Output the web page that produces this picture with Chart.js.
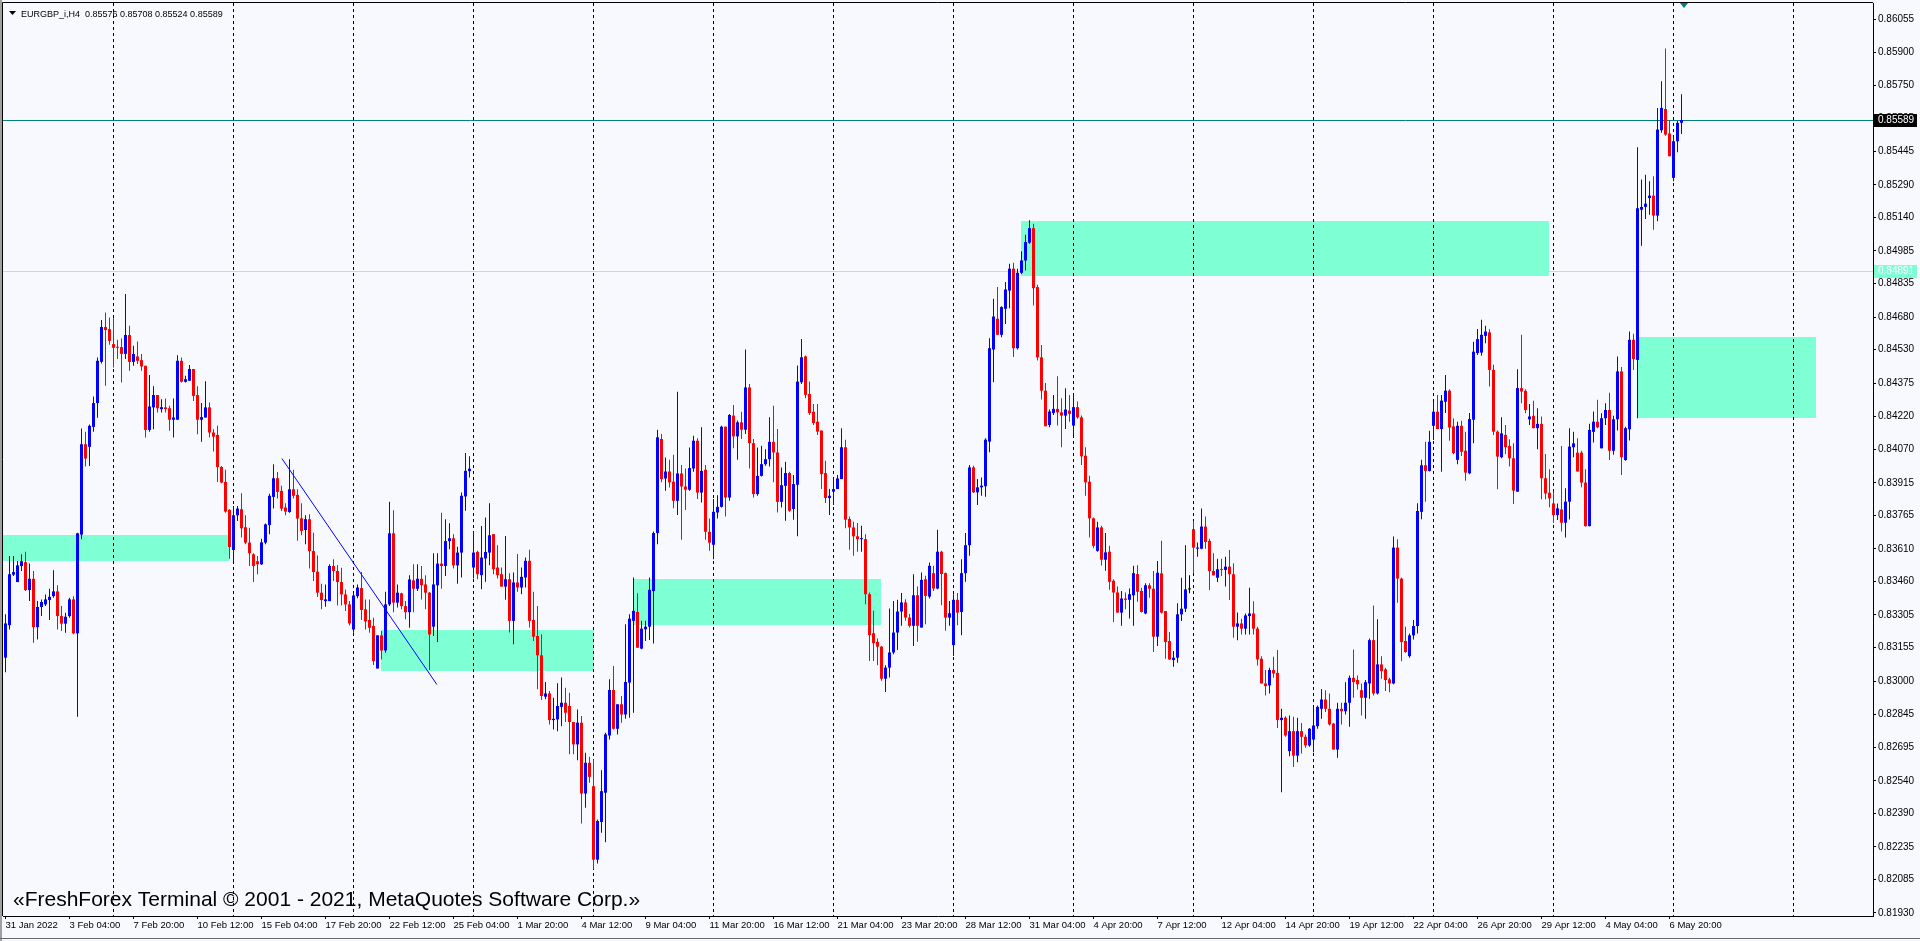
<!DOCTYPE html>
<html lang="en">
<head>
<meta charset="UTF-8" />
<title>EURGBP_i,H4</title>
<style>
  html, body { margin: 0; padding: 0; background: #f8f8ff; overflow: hidden; }
  #wrap { width: 1920px; height: 941px; }
</style>
</head>
<body>
<div id="wrap"><canvas id="chart" width="1920" height="941"></canvas></div>
<script src="https://cdn.jsdelivr.net/npm/chart.js"></script>
<script>
// EURGBP H4 candles, 31 Jan 12:00 .. 9 May 2022
const opens = [
  0.83108,0.83258,0.83491,0.83457,0.83531,0.83549,0.83420,0.83472,0.83249,0.83342,
  0.83354,0.83374,0.83392,0.83414,0.83300,0.83265,0.83300,0.83377,0.83220,0.83676,
  0.84093,0.84081,0.84173,0.84283,0.84473,0.84634,0.84624,0.84555,0.84541,0.84541,
  0.84510,0.84597,0.84473,0.84498,0.84481,0.84455,0.84159,0.84263,0.84320,0.84255,
  0.84263,0.84259,0.84206,0.84206,0.84478,0.84381,0.84386,0.84440,0.84320,0.84206,
  0.84216,0.84263,0.84147,0.84136,0.83988,0.83919,0.83790,0.83605,0.83765,0.83793,
  0.83710,0.83639,0.83585,0.83553,0.83539,0.83639,0.83720,0.83850,0.83936,0.83878,
  0.83801,0.83780,0.83885,0.83859,0.83751,0.83697,0.83747,0.83600,0.83505,0.83408,
  0.83369,0.83369,0.83531,0.83508,0.83457,0.83400,0.83354,0.83238,0.83392,0.83429,
  0.83331,0.83282,0.83254,0.83058,0.83211,0.83141,0.83354,0.83682,0.83362,0.83405,
  0.83346,0.83318,0.83465,0.83426,0.83472,0.83446,0.83408,0.83251,0.83442,0.83542,
  0.83531,0.83646,0.83659,0.83534,0.83593,0.83852,0.83969,0.83524,0.83596,0.83489,
  0.83566,0.83593,0.83678,0.83524,0.83493,0.83436,0.83470,0.83278,0.83455,0.83432,
  0.83478,0.83555,0.83282,0.83208,0.83119,0.82928,0.82943,0.82820,0.82823,0.82881,
  0.82900,0.82885,0.82811,0.82708,0.82808,0.82481,0.82623,0.82515,0.82176,0.82350,
  0.82485,0.82749,0.82959,0.82780,0.82893,0.82846,0.82993,0.83278,0.83319,0.83150,
  0.83239,0.83251,0.83416,0.83683,0.84117,0.83935,0.83967,0.83920,0.83832,0.83958,
  0.83898,0.83883,0.83981,0.84109,0.83870,0.83975,0.83689,0.83629,0.83778,0.83804,
  0.84174,0.83847,0.84225,0.84129,0.84194,0.84160,0.84355,0.84098,0.83863,0.83947,
  0.84001,0.84024,0.84104,0.84055,0.83827,0.83901,0.83960,0.83794,0.83906,0.84379,
  0.84498,0.84325,0.84243,0.84197,0.84156,0.83960,0.83845,0.83874,0.83886,0.83932,
  0.84079,0.83748,0.83709,0.83668,0.83655,0.83655,0.83401,0.83221,0.83181,0.83159,
  0.83011,0.83062,0.83132,0.83224,0.83321,0.83363,0.83293,0.83255,0.83396,0.83247,
  0.83470,0.83390,0.83498,0.83427,0.83597,0.83498,0.83293,0.83166,0.83375,0.83319,
  0.83498,0.83627,0.83986,0.83871,0.83894,0.83899,0.84105,0.84530,0.84672,0.84598,
  0.84718,0.84802,0.84903,0.84536,0.84884,0.84941,0.85023,0.85090,0.84818,0.84494,
  0.84340,0.84182,0.84237,0.84256,0.84240,0.84225,0.84248,0.84179,0.84264,0.84217,
  0.84040,0.83920,0.83751,0.83601,0.83709,0.83560,0.83597,0.83463,0.83409,0.83316,
  0.83381,0.83375,0.83396,0.83494,0.83416,0.83312,0.83442,0.83426,0.83205,0.83497,
  0.83323,0.83185,0.83097,0.83108,0.83308,0.83334,0.83423,0.83701,0.83611,0.83611,
  0.83713,0.83647,0.83508,0.83477,0.83516,0.83513,0.83528,0.83493,0.83251,0.83266,
  0.83242,0.83300,0.83312,0.83242,0.83103,0.82989,0.82980,0.83051,0.83038,0.82820,
  0.82831,0.82677,0.82769,0.82656,0.82769,0.82743,0.82703,0.82730,0.82792,0.82872,
  0.82915,0.82872,0.82804,0.82684,0.82872,0.82861,0.82900,0.83015,0.83005,0.82958,
  0.82923,0.82989,0.83189,0.82943,0.83077,0.83054,0.83008,0.82989,0.83616,0.83473,
  0.83185,0.83115,0.83211,0.83254,0.83781,0.83996,0.83970,0.84178,0.84243,0.84163,
  0.84289,0.84340,0.84175,0.84021,0.84178,0.84063,0.83959,0.84206,0.84514,0.84516,
  0.84593,0.84609,0.84436,0.84151,0.84033,0.84136,0.84085,0.84028,0.83874,0.84352,
  0.84339,0.84208,0.84224,0.84167,0.84187,0.83936,0.83869,0.83820,0.83766,0.83792,
  0.83731,0.83828,0.84079,0.84054,0.84054,0.83916,0.83715,0.84150,0.84197,0.84074,
  0.84213,0.84251,0.84063,0.84208,0.84429,0.84020,0.84162,0.84575,0.84482,0.85175,
  0.85188,0.85229,0.85240,0.85148,0.85542,0.85640,0.85527,0.85322,0.85491,0.85576
];
const highs = [
  0.83308,0.83577,0.83577,0.83554,0.83585,0.83597,0.83543,0.83508,0.83369,0.83377,
  0.83400,0.83426,0.83511,0.83442,0.83346,0.83315,0.83385,0.83392,0.83685,0.84166,
  0.84150,0.84184,0.84313,0.84493,0.84666,0.84701,0.84678,0.84675,0.84575,0.84581,
  0.84786,0.84640,0.84547,0.84567,0.84509,0.84455,0.84412,0.84360,0.84320,0.84301,
  0.84304,0.84270,0.84304,0.84504,0.84493,0.84409,0.84458,0.84440,0.84360,0.84283,
  0.84384,0.84286,0.84162,0.84178,0.83993,0.83975,0.83793,0.83808,0.83808,0.83867,
  0.83765,0.83708,0.83590,0.83577,0.83657,0.83727,0.83865,0.84001,0.83965,0.83901,
  0.83821,0.84024,0.83975,0.83885,0.83821,0.83765,0.83770,0.83685,0.83580,0.83449,
  0.83446,0.83539,0.83562,0.83536,0.83523,0.83423,0.83369,0.83408,0.83446,0.83503,
  0.83377,0.83377,0.83292,0.83211,0.83231,0.83412,0.83827,0.83788,0.83446,0.83408,
  0.83369,0.83488,0.83539,0.83539,0.83531,0.83488,0.83411,0.83590,0.83590,0.83777,
  0.83747,0.83728,0.83677,0.83620,0.83870,0.84052,0.84037,0.83689,0.83601,0.83716,
  0.83755,0.83821,0.83678,0.83627,0.83524,0.83670,0.83498,0.83501,0.83586,0.83524,
  0.83570,0.83606,0.83412,0.83347,0.83216,0.82996,0.82954,0.82923,0.82990,0.83016,
  0.82969,0.82946,0.82811,0.82869,0.82839,0.82669,0.82651,0.82638,0.82361,0.82589,
  0.82762,0.83008,0.83070,0.82893,0.82931,0.83262,0.83308,0.83478,0.83405,0.83278,
  0.83278,0.83478,0.83690,0.84160,0.84140,0.84032,0.84021,0.84044,0.84335,0.83997,
  0.83981,0.84078,0.84132,0.84120,0.84171,0.83997,0.83750,0.83840,0.83858,0.84178,
  0.84174,0.84232,0.84274,0.84202,0.84243,0.84530,0.84371,0.84117,0.84078,0.84086,
  0.84070,0.84217,0.84271,0.84163,0.83986,0.84012,0.83966,0.83951,0.84456,0.84579,
  0.84502,0.84382,0.84279,0.84279,0.84156,0.84017,0.83886,0.83935,0.83951,0.84167,
  0.84114,0.83760,0.83735,0.83729,0.83717,0.83678,0.83409,0.83324,0.83196,0.83162,
  0.83073,0.83335,0.83370,0.83375,0.83406,0.83378,0.83309,0.83493,0.83437,0.83501,
  0.83486,0.83547,0.83532,0.83698,0.83601,0.83501,0.83370,0.83401,0.83406,0.83562,
  0.83683,0.83997,0.83994,0.83932,0.83940,0.84120,0.84582,0.84764,0.84818,0.84730,
  0.84841,0.84926,0.84930,0.84903,0.84983,0.85060,0.85126,0.85110,0.84829,0.84551,
  0.84376,0.84253,0.84320,0.84407,0.84305,0.84351,0.84320,0.84317,0.84290,0.84225,
  0.84079,0.83948,0.83755,0.83735,0.83717,0.83683,0.83624,0.83470,0.83437,0.83416,
  0.83409,0.83427,0.83532,0.83535,0.83431,0.83451,0.83451,0.83508,0.83554,0.83647,
  0.83323,0.83226,0.83139,0.83359,0.83477,0.83627,0.83488,0.83739,0.83639,0.83796,
  0.83759,0.83657,0.83590,0.83565,0.83565,0.83574,0.83605,0.83544,0.83316,0.83288,
  0.83312,0.83431,0.83368,0.83251,0.83115,0.83051,0.83062,0.83112,0.83143,0.82872,
  0.82838,0.82841,0.82835,0.82831,0.82807,0.82753,0.82784,0.82877,0.82887,0.82964,
  0.82958,0.82943,0.82807,0.82900,0.82900,0.82995,0.83026,0.83146,0.83026,0.82989,
  0.83005,0.83196,0.83349,0.83285,0.83115,0.83062,0.83015,0.83667,0.83654,0.83477,
  0.83251,0.83220,0.83282,0.83821,0.84021,0.84104,0.84155,0.84289,0.84320,0.84320,
  0.84412,0.84347,0.84212,0.84197,0.84201,0.84150,0.84237,0.84566,0.84625,0.84667,
  0.84640,0.84624,0.84460,0.84156,0.84217,0.84182,0.84116,0.84097,0.84439,0.84598,
  0.84347,0.84279,0.84294,0.84259,0.84221,0.84048,0.83977,0.83874,0.83820,0.84085,
  0.83890,0.84167,0.84151,0.84121,0.84063,0.83977,0.84187,0.84244,0.84298,0.84236,
  0.84282,0.84331,0.84224,0.84498,0.84449,0.84174,0.84613,0.84603,0.85463,0.85314,
  0.85337,0.85306,0.85329,0.85645,0.85768,0.85919,0.85588,0.85511,0.85584,0.85708
];
const lows = [
  0.83041,0.83238,0.83485,0.83457,0.83508,0.83416,0.83369,0.83177,0.83192,0.83300,
  0.83346,0.83282,0.83385,0.83238,0.83231,0.83223,0.83292,0.83216,0.82835,0.83654,
  0.83990,0.83993,0.84150,0.84215,0.84466,0.84363,0.84552,0.84447,0.84486,0.84378,
  0.84486,0.84432,0.84455,0.84463,0.84432,0.84124,0.84150,0.84162,0.84239,0.84239,
  0.84239,0.84155,0.84124,0.84206,0.84378,0.84378,0.84386,0.84293,0.84139,0.84104,
  0.84216,0.84124,0.84059,0.83919,0.83913,0.83777,0.83565,0.83554,0.83739,0.83662,
  0.83631,0.83531,0.83457,0.83493,0.83536,0.83631,0.83677,0.83796,0.83842,0.83785,
  0.83765,0.83777,0.83842,0.83647,0.83673,0.83631,0.83519,0.83462,0.83388,0.83331,
  0.83343,0.83369,0.83462,0.83349,0.83349,0.83323,0.83257,0.83223,0.83382,0.83282,
  0.83238,0.83223,0.83074,0.83058,0.83100,0.83131,0.83346,0.83318,0.83339,0.83331,
  0.83285,0.83246,0.83318,0.83416,0.83377,0.83331,0.83051,0.83208,0.83180,0.83426,
  0.83485,0.83608,0.83519,0.83449,0.83478,0.83786,0.83940,0.83473,0.83470,0.83424,
  0.83458,0.83535,0.83493,0.83473,0.83436,0.83375,0.83224,0.83170,0.83412,0.83401,
  0.83432,0.83247,0.83185,0.82962,0.82913,0.82916,0.82800,0.82777,0.82769,0.82792,
  0.82811,0.82662,0.82662,0.82635,0.82343,0.82415,0.82531,0.82133,0.82158,0.82300,
  0.82256,0.82731,0.82777,0.82754,0.82808,0.82826,0.82831,0.82854,0.83154,0.83147,
  0.83185,0.83190,0.83174,0.83632,0.83917,0.83878,0.83893,0.83798,0.83766,0.83652,
  0.83789,0.83878,0.83966,0.83840,0.83824,0.83652,0.83601,0.83562,0.83750,0.83801,
  0.83760,0.83832,0.84074,0.84021,0.84117,0.84140,0.83981,0.83847,0.83855,0.83944,
  0.83994,0.83990,0.83917,0.83778,0.83801,0.83740,0.83781,0.83745,0.83668,0.84371,
  0.84305,0.84228,0.84182,0.84136,0.83886,0.83822,0.83766,0.83812,0.83886,0.83932,
  0.83705,0.83606,0.83578,0.83597,0.83597,0.83355,0.83093,0.83093,0.83073,0.83001,
  0.82950,0.83016,0.83124,0.83144,0.83255,0.83278,0.83247,0.83162,0.83181,0.83247,
  0.83262,0.83381,0.83416,0.83424,0.83350,0.83232,0.83255,0.83116,0.83258,0.83212,
  0.83458,0.83578,0.83868,0.83812,0.83855,0.83851,0.84056,0.84379,0.84598,0.84587,
  0.84648,0.84721,0.84495,0.84530,0.84879,0.84895,0.85018,0.84733,0.84479,0.84299,
  0.84176,0.84171,0.84228,0.84179,0.84079,0.84163,0.84197,0.84136,0.84210,0.83997,
  0.83855,0.83663,0.83613,0.83597,0.83533,0.83509,0.83421,0.83273,0.83316,0.83255,
  0.83332,0.83289,0.83255,0.83366,0.83316,0.83308,0.83385,0.83134,0.83162,0.83312,
  0.83103,0.83097,0.83066,0.83085,0.83277,0.83319,0.83405,0.83500,0.83574,0.83608,
  0.83611,0.83420,0.83488,0.83457,0.83485,0.83436,0.83374,0.83200,0.83189,0.83215,
  0.83215,0.83215,0.83215,0.83072,0.82989,0.82934,0.82943,0.83015,0.82784,0.82487,
  0.82743,0.82653,0.82604,0.82626,0.82666,0.82692,0.82697,0.82672,0.82780,0.82826,
  0.82857,0.82795,0.82684,0.82646,0.82800,0.82846,0.82789,0.82923,0.82961,0.82841,
  0.82826,0.82918,0.82934,0.82938,0.83011,0.82954,0.82949,0.82985,0.83362,0.83092,
  0.83131,0.83108,0.83192,0.83220,0.83747,0.83827,0.83967,0.84113,0.84163,0.83966,
  0.84237,0.84109,0.84047,0.84001,0.84039,0.83924,0.83955,0.84098,0.84505,0.84501,
  0.84559,0.84359,0.84136,0.83885,0.84028,0.84048,0.83990,0.83817,0.83874,0.84282,
  0.84236,0.84182,0.84167,0.84070,0.83839,0.83839,0.83802,0.83731,0.83743,0.83690,
  0.83663,0.83746,0.84033,0.83967,0.83894,0.83712,0.83715,0.84101,0.84167,0.84074,
  0.84182,0.84020,0.84044,0.84156,0.83951,0.84017,0.84110,0.84436,0.84213,0.85009,
  0.85132,0.85152,0.85083,0.85122,0.85530,0.85517,0.85422,0.85306,0.85440,0.85524
];
const closes = [
  0.83266,0.83493,0.83503,0.83534,0.83553,0.83420,0.83472,0.83249,0.83342,0.83365,
  0.83377,0.83389,0.83414,0.83300,0.83265,0.83297,0.83377,0.83220,0.83682,0.84093,
  0.84027,0.84178,0.84283,0.84478,0.84634,0.84620,0.84570,0.84538,0.84538,0.84510,
  0.84597,0.84473,0.84509,0.84478,0.84452,0.84159,0.84267,0.84320,0.84259,0.84264,
  0.84255,0.84206,0.84216,0.84478,0.84381,0.84393,0.84440,0.84316,0.84206,0.84218,
  0.84263,0.84147,0.84128,0.83988,0.83916,0.83782,0.83619,0.83765,0.83796,0.83705,
  0.83639,0.83590,0.83531,0.83539,0.83640,0.83723,0.83855,0.83936,0.83873,0.83796,
  0.83782,0.83885,0.83855,0.83750,0.83693,0.83747,0.83600,0.83503,0.83408,0.83374,
  0.83377,0.83531,0.83508,0.83457,0.83400,0.83354,0.83266,0.83395,0.83432,0.83328,
  0.83275,0.83246,0.83092,0.83211,0.83141,0.83354,0.83682,0.83362,0.83408,0.83346,
  0.83318,0.83469,0.83426,0.83472,0.83442,0.83408,0.83215,0.83446,0.83542,0.83531,
  0.83646,0.83659,0.83534,0.83593,0.83855,0.83970,0.83980,0.83593,0.83493,0.83570,
  0.83596,0.83673,0.83516,0.83489,0.83436,0.83470,0.83278,0.83455,0.83432,0.83481,
  0.83555,0.83278,0.83205,0.83119,0.82931,0.82943,0.82820,0.82826,0.82885,0.82900,
  0.82854,0.82811,0.82708,0.82808,0.82481,0.82623,0.82558,0.82176,0.82354,0.82492,
  0.82754,0.82959,0.82780,0.82893,0.82846,0.82996,0.83288,0.83324,0.83154,0.83242,
  0.83251,0.83421,0.83683,0.84125,0.83932,0.83967,0.83917,0.83832,0.83958,0.83898,
  0.83883,0.83983,0.84109,0.83870,0.83970,0.83689,0.83639,0.83781,0.83804,0.84174,
  0.83847,0.84228,0.84129,0.84194,0.84160,0.84355,0.84098,0.83863,0.83947,0.84001,
  0.84024,0.84104,0.84055,0.83827,0.83904,0.83960,0.83786,0.83909,0.84382,0.84494,
  0.84321,0.84237,0.84191,0.84151,0.83955,0.83845,0.83855,0.83886,0.83935,0.84079,
  0.83745,0.83709,0.83668,0.83655,0.83658,0.83401,0.83212,0.83175,0.83159,0.83011,
  0.83062,0.83132,0.83224,0.83321,0.83363,0.83293,0.83255,0.83396,0.83255,0.83467,
  0.83393,0.83532,0.83427,0.83597,0.83494,0.83293,0.83313,0.83375,0.83316,0.83498,
  0.83627,0.83986,0.83871,0.83894,0.83902,0.84114,0.84536,0.84682,0.84598,0.84726,
  0.84807,0.84903,0.84536,0.84884,0.84941,0.85026,0.85090,0.84813,0.84494,0.84340,
  0.84176,0.84244,0.84256,0.84240,0.84225,0.84253,0.84233,0.84264,0.84217,0.84037,
  0.83917,0.83751,0.83624,0.83709,0.83560,0.83594,0.83458,0.83409,0.83316,0.83381,
  0.83375,0.83401,0.83498,0.83412,0.83319,0.83442,0.83426,0.83205,0.83500,0.83316,
  0.83180,0.83100,0.83108,0.83308,0.83334,0.83423,0.83423,0.83616,0.83616,0.83713,
  0.83642,0.83508,0.83488,0.83516,0.83513,0.83528,0.83493,0.83251,0.83266,0.83242,
  0.83303,0.83312,0.83242,0.83100,0.82989,0.82977,0.83051,0.83035,0.82820,0.82831,
  0.82749,0.82769,0.82656,0.82769,0.82743,0.82703,0.82780,0.82795,0.82881,0.82915,
  0.82872,0.82800,0.82684,0.82872,0.82861,0.82900,0.83015,0.82995,0.82985,0.82923,
  0.82995,0.83189,0.82943,0.83077,0.83046,0.83005,0.82989,0.83616,0.83473,0.83180,
  0.83134,0.83211,0.83254,0.83785,0.83996,0.83970,0.84104,0.84243,0.84163,0.84294,
  0.84340,0.84170,0.84052,0.84178,0.84058,0.83962,0.84209,0.84520,0.84578,0.84598,
  0.84613,0.84436,0.84151,0.84036,0.84143,0.84079,0.84028,0.83879,0.84352,0.84336,
  0.84251,0.84221,0.84167,0.84187,0.83936,0.83866,0.83843,0.83766,0.83797,0.83731,
  0.83828,0.84082,0.84097,0.83967,0.83916,0.83715,0.84159,0.84197,0.84171,0.84213,
  0.84251,0.84063,0.84208,0.84429,0.84033,0.84167,0.84575,0.84486,0.85182,0.85188,
  0.85203,0.85240,0.85148,0.85545,0.85645,0.85522,0.85422,0.85491,0.85576,0.85589
];

// one label every 16 bars, starting at bar 0
const timeLabels = ['31 Jan 2022', '3 Feb 04:00', '7 Feb 20:00', '10 Feb 12:00', '15 Feb 04:00',
  '17 Feb 20:00', '22 Feb 12:00', '25 Feb 04:00', '1 Mar 20:00', '4 Mar 12:00', '9 Mar 04:00',
  '11 Mar 20:00', '16 Mar 12:00', '21 Mar 04:00', '23 Mar 20:00', '28 Mar 12:00', '31 Mar 04:00',
  '4 Apr 20:00', '7 Apr 12:00', '12 Apr 04:00', '14 Apr 20:00', '19 Apr 12:00', '22 Apr 04:00',
  '26 Apr 20:00', '29 Apr 12:00', '4 May 04:00', '6 May 20:00'];

const priceTicks = [0.86055, 0.85900, 0.85750, 0.85595, 0.85445, 0.85290, 0.85140, 0.84985,
  0.84835, 0.84680, 0.84530, 0.84375, 0.84220, 0.84070, 0.83915, 0.83765, 0.83610, 0.83460,
  0.83305, 0.83155, 0.83000, 0.82845, 0.82695, 0.82540, 0.82390, 0.82235, 0.82085, 0.81930];

// drawn objects: [fromBar, toBar, topPrice, bottomPrice]
const zones = [
  [-2, 55.85, 0.83673, 0.83554],
  [93.9, 147, 0.83234, 0.83046],
  [157, 218.85, 0.83471, 0.83261],
  [253.9, 385.9, 0.85121, 0.84867],
  [408, 452.7, 0.84589, 0.84216]
];
const trendLine = [{ x: 69.1, y: 0.84027 }, { x: 107.85, y: 0.82984 }];
const levelPrices = [0.85589, 0.84891];
const levelColors = ['#008080', '#7fffd4'];
const levelBoxes = ['#000000', '#7fffd4'];

const UP = '#0000ff', DOWN = '#ff0000';
const bars = opens.map((o, i) => i);
const colors = bars.map(i => closes[i] > opens[i] ? UP : (closes[i] < opens[i] ? DOWN : '#000000'));

const smallFont = '"Liberation Sans", Arial, sans-serif';

const extras = {
  id: 'extras',
  beforeDatasetsDraw(chart) {
    const { ctx, chartArea: a, scales: { x, y } } = chart;
    ctx.save();
    ctx.beginPath();
    ctx.rect(a.left, a.top, a.right - a.left, a.bottom - a.top);
    ctx.clip();

    // rectangles
    ctx.fillStyle = '#7fffd4';
    zones.forEach(([b1, b2, p1, p2]) => {
      const x1 = Math.round(x.getPixelForValue(b1));
      const x2 = Math.round(x.getPixelForValue(b2));
      const y1 = Math.round(y.getPixelForValue(p1));
      const y2 = Math.round(y.getPixelForValue(p2));
      ctx.fillRect(x1, y1, x2 - x1, y2 - y1);
    });

    // vertical dashed grid, every 30 bars
    ctx.strokeStyle = '#000';
    ctx.lineWidth = 1;
    ctx.setLineDash([3, 3]);
    for (let b = 27; b <= x.max; b += 30) {
      const px = Math.floor(x.getPixelForValue(b)) + 0.5;
      ctx.beginPath();
      ctx.moveTo(px, a.top);
      ctx.lineTo(px, a.bottom);
      ctx.stroke();
    }
    ctx.setLineDash([]);

    // horizontal levels
    levelPrices.forEach((p, k) => {
      const py = Math.round(y.getPixelForValue(p)) + 0.5;
      ctx.strokeStyle = levelColors[k];
      ctx.beginPath();
      ctx.moveTo(a.left, py);
      ctx.lineTo(a.right, py);
      ctx.stroke();
    });
    ctx.restore();
  },
  afterDraw(chart) {
    const { ctx, chartArea: a, scales: { x, y } } = chart;
    ctx.save();

    // frame
    ctx.strokeStyle = '#000';
    ctx.lineWidth = 1;
    ctx.beginPath();
    ctx.moveTo(a.left - 0.5, a.bottom);
    ctx.lineTo(a.left - 0.5, a.top - 0.5);
    ctx.lineTo(a.right, a.top - 0.5);
    ctx.stroke();
    ctx.fillStyle = '#a0a0a0';
    ctx.fillRect(0, 0, 2, 941);

    // price boxes on the axis
    ctx.font = '10px ' + smallFont;
    ctx.textBaseline = 'middle';
    ctx.textAlign = 'left';
    levelPrices.forEach((p, k) => {
      const py = Math.round(y.getPixelForValue(p));
      ctx.fillStyle = levelBoxes[k];
      ctx.fillRect(a.right + 1, py - 6, 43, 13);
      ctx.fillStyle = '#ffffff';
      ctx.fillText(p.toFixed(5), a.right + 5, py + 0.5);
    });

    // shift marker
    const mx = Math.round(x.getPixelForValue(419)) + 2;
    ctx.fillStyle = '#008080';
    ctx.beginPath();
    ctx.moveTo(mx - 4, a.top);
    ctx.lineTo(mx + 4, a.top);
    ctx.lineTo(mx, a.top + 5);
    ctx.closePath();
    ctx.fill();

    // header
    ctx.fillStyle = '#000';
    ctx.beginPath();
    ctx.moveTo(9, 11);
    ctx.lineTo(16, 11);
    ctx.lineTo(12.5, 15);
    ctx.closePath();
    ctx.fill();
    ctx.textBaseline = 'alphabetic';
    ctx.font = '9px ' + smallFont;
    ctx.fillText('EURGBP_i,H4  0.85576 0.85708 0.85524 0.85589', 21, 17);

    // watermark
    ctx.font = '21px "Liberation Sans", Arial, sans-serif';
    ctx.fillText('\u00abFreshForex Terminal \u00a9 2001 - 2021, MetaQuotes Software Corp.\u00bb', 13, 906);

    // window bottom edge
    ctx.fillStyle = '#696969';
    ctx.fillRect(0, 938, 1920, 1);
    ctx.restore();
  }
};

new Chart(document.getElementById('chart'), {
  type: 'bar',
  data: {
    datasets: [
      {
        type: 'line',
        data: trendLine,
        borderColor: '#0000ff',
        borderWidth: 1,
        pointRadius: 0,
        fill: false,
        order: 0
      },
      {
        data: bars.map(i => ({ x: i, y: [opens[i], closes[i]] })),
        backgroundColor: colors,
        barThickness: 3,
        minBarLength: 1,
        grouped: false,
        inflateAmount: 0,
        order: 1
      },
      {
        data: bars.map(i => ({ x: i, y: [lows[i], highs[i]] })),
        backgroundColor: colors,
        barThickness: 1,
        grouped: false,
        inflateAmount: 0,
        order: 2
      }
    ]
  },
  options: {
    responsive: false,
    devicePixelRatio: 1,
    animation: false,
    layout: { padding: { left: 3, top: 3, right: 0, bottom: 0 } },
    plugins: { legend: { display: false }, tooltip: { enabled: false } },
    scales: {
      x: {
        type: 'linear',
        min: -0.625,
        max: 466.875,
        offset: false,
        grid: { drawOnChartArea: false, drawTicks: true, tickLength: 3, color: '#000', offset: false },
        border: { color: '#000' },
        afterBuildTicks: s => { s.ticks = timeLabels.map((t, k) => ({ value: k * 16 })); },
        afterFit: s => { s.height = 25; s.paddingLeft = 0; s.paddingRight = 0; },
        ticks: {
          autoSkip: false,
          maxRotation: 0,
          minRotation: 0,
          align: 'start',
          padding: 1,
          color: '#000',
          font: { family: smallFont, size: 9.5 },
          callback: (v, i) => timeLabels[i]
        }
      },
      y: {
        type: 'linear',
        position: 'right',
        min: 0.81916,
        max: 0.86129,
        grid: { drawOnChartArea: false, drawTicks: true, tickLength: 3, color: '#000' },
        border: { color: '#000' },
        afterBuildTicks: s => { s.ticks = priceTicks.map(v => ({ value: v })); },
        afterFit: s => { s.width = 47; s.paddingTop = 0; s.paddingBottom = 0; },
        ticks: {
          padding: 2,
          color: '#000',
          font: { family: smallFont, size: 10 },
          callback: v => Number(v).toFixed(5)
        }
      }
    }
  },
  plugins: [extras]
});
</script>
</body>
</html>
